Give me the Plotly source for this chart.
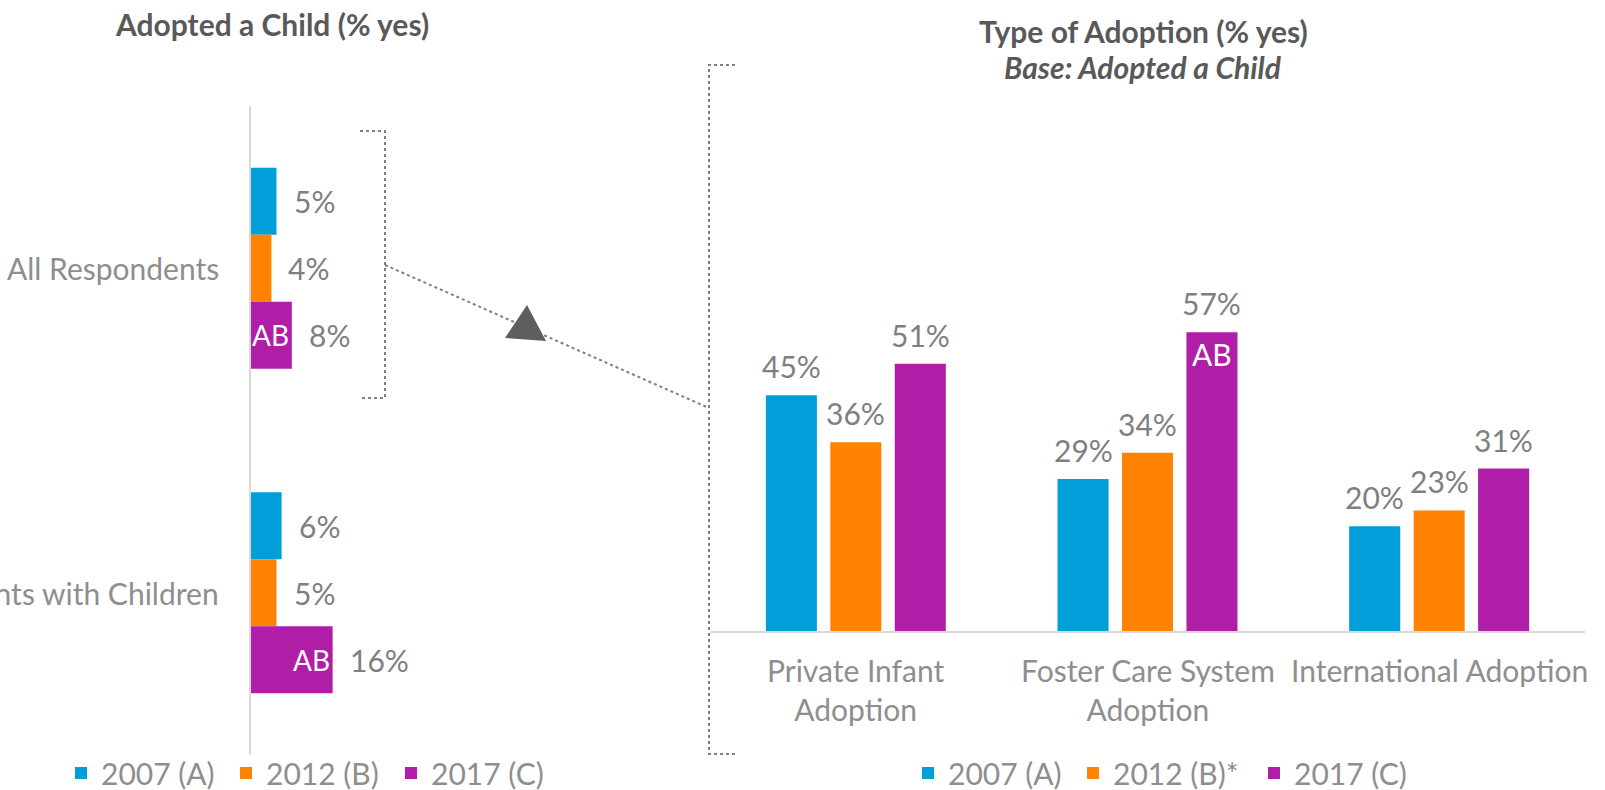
import plotly.graph_objects as go

W, H = 1605, 790

# ---------------- data ----------------
left_categories = ["All Respondents", "Parents with Children"]
left_series = ["2007 (A)", "2012 (B)", "2017 (C)"]
left_2007 = [5, 6]
left_2012 = [4, 5]
left_2017 = [8, 16]
left_sig_2017 = ["AB", "AB"]

right_categories = ["Private Infant<br>Adoption", "Foster Care System<br>Adoption", "International Adoption"]
right_series = ["2007 (A)", "2012 (B)*", "2017 (C)"]
right_2007 = [45, 29, 20]
right_2012 = [36, 34, 23]
right_2017 = [51, 57, 31]
right_sig_2017 = ["", "AB", ""]

colors = ["#009FDA", "#FF8200", "#B01EA8"]
FONT = "Lato"
FS = 30
C_TITLE = "#595959"
C_VAL = "#7F7F7F"
C_CAT = "#8E8E8E"
C_LINE = "#D9D9D9"
C_DOT = "#7F7F7F"


def px(x):
    """page pixel x -> paper fraction"""
    return x / W


def py(y):
    """page pixel y -> paper fraction"""
    return 1 - y / H


fig = go.Figure()

left_vals = [left_2007, left_2012, left_2017]
left_lw = [120, 120, 120]
for name, vals, c, lw in zip(left_series, left_vals, colors, left_lw):
    fig.add_trace(go.Bar(
        y=left_categories, x=vals, orientation="h", name=name,
        marker=dict(color=c, line=dict(width=0)),
        xaxis="x", yaxis="y", legend="legend", legendwidth=lw,
        hoverinfo="skip",
    ))

right_vals = [right_2007, right_2012, right_2017]
right_width = 0.175
right_centers = [-0.221, 0.0, 0.221]
right_lw = [120, 136, 120]
for name, vals, c, ctr, lw in zip(right_series, right_vals, colors, right_centers, right_lw):
    fig.add_trace(go.Bar(
        x=right_categories, y=vals, name=name,
        marker=dict(color=c, line=dict(width=0)),
        width=right_width, offset=ctr - right_width / 2,
        xaxis="x2", yaxis="y2", legend="legend2", legendwidth=lw,
        hoverinfo="skip",
    ))

annotations = []
# left value labels + significance
left_group = 0.62
left_slot = left_group / 3
for j, vals in enumerate(left_vals):
    off = -left_group / 2 + (j + 0.5) * left_slot
    for i, v in enumerate(vals):
        annotations.append(dict(
            x=v, y=i + off, xref="x", yref="y", text=f"{v}%",
            showarrow=False, xanchor="left", yanchor="middle", xshift=15,
            font=dict(family=FONT, size=FS, color=C_VAL)))
off2017 = -left_group / 2 + 2.5 * left_slot
for i, (v, s) in enumerate(zip(left_2017, left_sig_2017)):
    if s:
        annotations.append(dict(
            x=v, y=i + off2017, xref="x", yref="y", text=s,
            showarrow=False, xanchor="right", yanchor="middle", xshift=-1,
            font=dict(family=FONT, size=28, color="white")))
# left category labels
for i, cat in enumerate(left_categories):
    annotations.append(dict(
        x=px(221), y=i, xref="paper", yref="y", text=cat, showarrow=False,
        xanchor="right", yanchor="middle",
        font=dict(family=FONT, size=FS, color=C_CAT)))

# right value labels + significance
for j, vals in enumerate(right_vals):
    for i, v in enumerate(vals):
        annotations.append(dict(
            x=i + right_centers[j], y=v, xref="x2", yref="y2", text=f"{v}%",
            showarrow=False, xanchor="center", yanchor="middle", yshift=29,
            font=dict(family=FONT, size=FS, color=C_VAL)))
for i, (v, s) in enumerate(zip(right_2017, right_sig_2017)):
    if s:
        annotations.append(dict(
            x=i + right_centers[2], y=v, xref="x2", yref="y2", text=s,
            showarrow=False, xanchor="center", yanchor="middle", yshift=-22,
            font=dict(family=FONT, size=FS, color="white")))
# right category labels
for i, cat in enumerate(right_categories):
    annotations.append(dict(
        x=i, y=py(650), xref="x2", yref="paper", text=cat, showarrow=False,
        xanchor="center", yanchor="top",
        font=dict(family=FONT, size=FS, color=C_CAT)))

# titles
annotations.append(dict(
    x=px(272), y=py(24), xref="paper", yref="paper",
    text="<b>Adopted a Child (% yes)</b>", showarrow=False,
    xanchor="center", yanchor="middle",
    font=dict(family=FONT, size=FS, color=C_TITLE)))
annotations.append(dict(
    x=px(1143), y=py(31), xref="paper", yref="paper",
    text="<b>Type of Adoption (% yes)</b>", showarrow=False,
    xanchor="center", yanchor="middle",
    font=dict(family=FONT, size=FS, color=C_TITLE)))
annotations.append(dict(
    x=px(1143), y=py(67), xref="paper", yref="paper",
    text="<b><i>Base: Adopted a Child</i></b>", showarrow=False,
    xanchor="center", yanchor="middle",
    font=dict(family=FONT, size=FS, color=C_TITLE)))

dot = dict(color=C_DOT, width=2, dash="dot")
shapes = [
    # left bracket
    dict(type="path", xref="paper", yref="paper", line=dot,
         path=f"M {px(360)} {py(131)} L {px(385)} {py(131)} L {px(385)} {py(398)} L {px(360)} {py(398)}"),
    # right bracket
    dict(type="path", xref="paper", yref="paper", line=dot,
         path=f"M {px(735)} {py(65)} L {px(709)} {py(65)} L {px(709)} {py(754)} L {px(735)} {py(754)}"),
    # connector
    dict(type="line", xref="paper", yref="paper", line=dot,
         x0=px(385), y0=py(265), x1=px(709), y1=py(408)),
    # triangle
    dict(type="path", xref="paper", yref="paper", fillcolor="#5E5E5E",
         line=dict(width=0),
         path=f"M {px(527)} {py(305)} L {px(505)} {py(338)} L {px(546)} {py(341)} Z"),
]

fig.update_layout(
    width=W, height=H,
    margin=dict(l=0, r=0, t=0, b=0, autoexpand=False),
    paper_bgcolor="white", plot_bgcolor="white",
    barmode="group", bargap=0.38, bargroupgap=0,
    font=dict(family=FONT, size=FS, color=C_CAT),
    xaxis=dict(domain=[px(251), px(700)], range=[0, 88], anchor="y",
               showgrid=False, zeroline=False, showline=False,
               showticklabels=False, ticks=""),
    yaxis=dict(domain=[py(755), py(106)], anchor="x", type="category",
               range=[1.5, -0.5], showgrid=False, zeroline=False,
               showline=True, linecolor=C_LINE, linewidth=2,
               showticklabels=False, ticks=""),
    xaxis2=dict(domain=[px(710), px(1585)], anchor="y2", type="category",
                range=[-0.5, 2.5], showgrid=False, zeroline=False,
                showline=True, linecolor=C_LINE, linewidth=2,
                showticklabels=False, ticks=""),
    yaxis2=dict(domain=[py(631), py(107)], anchor="x2", range=[0, 100],
                showgrid=False, zeroline=False, showline=False,
                showticklabels=False, ticks=""),
    legend=dict(orientation="h", x=px(61), y=py(773), xanchor="left",
                yanchor="middle", font=dict(family=FONT, size=FS, color=C_CAT),
                bgcolor="rgba(0,0,0,0)", traceorder="normal"),
    legend2=dict(orientation="h", x=px(908), y=py(773), xanchor="left",
                 yanchor="middle", font=dict(family=FONT, size=FS, color=C_CAT),
                 bgcolor="rgba(0,0,0,0)", traceorder="normal"),
    annotations=annotations,
    shapes=shapes,
    showlegend=True,
)

fig.write_html("out.html", config={"displayModeBar": False},
               post_script="document.body.style.margin='0';")
